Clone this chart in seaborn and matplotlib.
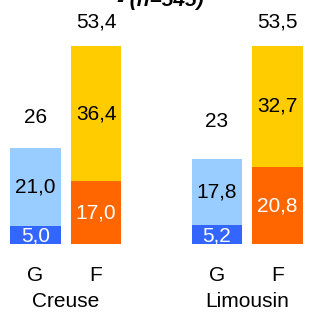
import matplotlib
matplotlib.use("Agg")
import matplotlib.pyplot as plt
import seaborn as sns
import pandas as pd
from matplotlib import font_manager

sns.set_theme(style="white")
names = {f.name for f in font_manager.fontManager.ttflist}
fam = ["Liberation Sans Narrow", "Liberation Sans", "DejaVu Sans"]
fam = [f for f in fam if f in names] or ["DejaVu Sans"]
plt.rcParams["font.family"] = fam

# data
groups = ["Creuse", "Creuse", "Limousin", "Limousin"]
bar_labels = ["G", "F", "G", "F"]
bottom_vals = [5.0, 17.0, 5.2, 20.8]
top_vals = [21.0, 36.4, 17.8, 32.7]
totals_txt = ["26", "53,4", "23", "53,5"]
positions = [0, 1, 3, 4]

top_colors = ["#99CCFF", "#FFCC00", "#99CCFF", "#FFCC00"]
bot_colors = ["#3366FF", "#FF6600", "#3366FF", "#FF6600"]

totals = [b + t for b, t in zip(bottom_vals, top_vals)]
df = pd.DataFrame({"pos": positions, "total": totals, "bottom": bottom_vals,
                   "key": [f"k{i}" for i in range(4)]})

fig = plt.figure(figsize=(3.16, 3.14), dpi=100)
ax = fig.add_axes([0, 0, 1, 1])

sns.barplot(data=df, x="pos", y="total", hue="key", native_scale=True, dodge=False,
            palette=dict(zip(df["key"], top_colors)), width=0.84, ax=ax,
            legend=False, saturation=1, linewidth=0)
sns.barplot(data=df, x="pos", y="bottom", hue="key", native_scale=True, dodge=False,
            palette=dict(zip(df["key"], bot_colors)), width=0.84, ax=ax,
            legend=False, saturation=1, linewidth=0)

ax.set_xlim(-0.587, 4.636)
ax.set_ylim(-18.9, 65.9)
ax.axis("off")

fs = 15
fmt = lambda v: f"{v:.1f}".replace(".", ",")
total_y = [34.3, 60.0, 33.0, 60.0]
for i, p in enumerate(positions):
    b, t = bottom_vals[i], top_vals[i]
    is_g = bar_labels[i] == "G"
    ax.text(p, b / 2 - (0.3 if is_g else 0), fmt(b), ha="center", va="center",
            color="white", fontsize=fs)
    ax.text(p, b + t / 2, fmt(t), ha="center", va="center", color="black", fontsize=fs)
    ax.text(p, total_y[i], totals_txt[i], ha="center", va="center", color="black",
            fontsize=fs)
    ax.text(p, -8.6, bar_labels[i], ha="center", va="center", color="black", fontsize=fs)

for g, cx in [("Creuse", 0.5), ("Limousin", 3.5)]:
    ax.text(cx, -15.6, g, ha="center", va="center", color="black", fontsize=fs)

fig.text(117 / 316, 1 - 6 / 314, "- (n=545)", ha="left", va="baseline",
         fontsize=15, fontweight="bold", fontstyle="italic", color="black")

fig.savefig("out.png", dpi=100)
